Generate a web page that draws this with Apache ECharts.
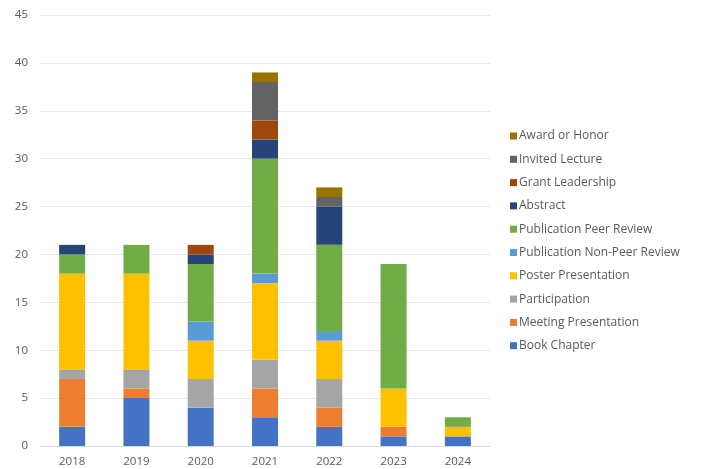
<!DOCTYPE html>
<html>
<head>
<meta charset="utf-8">
<script src="https://cdn.jsdelivr.net/npm/echarts@6/dist/echarts.min.js"></script>
<style>
  html, body { margin: 0; padding: 0; background: #fff; }
  #chart { width: 702px; height: 469px; }
</style>
</head>
<body>
<div id="chart"></div>
<script>
const years = ['2018', '2019', '2020', '2021', '2022', '2023', '2024'];

// stacked bottom to top
const bookChapter       = [2, 5, 4, 3, 2, 1, 1];
const meetingPres       = [5, 1, 0, 3, 2, 1, 0];
const participation     = [1, 2, 3, 3, 3, 0, 0];
const posterPres        = [10, 10, 4, 8, 4, 4, 1];
const pubNonPeer        = [0, 0, 2, 1, 1, 0, 0];
const pubPeer           = [2, 3, 6, 12, 9, 13, 1];
const abstractCnt       = [1, 0, 1, 2, 4, 0, 0];
const grantLeadership   = [0, 0, 1, 2, 0, 0, 0];
const invitedLecture    = [0, 0, 0, 4, 1, 0, 0];
const awardHonor        = [0, 0, 0, 1, 1, 0, 0];

const seriesList = [
  { name: 'Book Chapter', data: bookChapter, color: '#4472C4' },
  { name: 'Meeting Presentation', data: meetingPres, color: '#ED7D31' },
  { name: 'Participation', data: participation, color: '#A5A5A5' },
  { name: 'Poster Presentation', data: posterPres, color: '#FFC000' },
  { name: 'Publication Non-Peer Review', data: pubNonPeer, color: '#5B9BD5' },
  { name: 'Publication Peer Review', data: pubPeer, color: '#70AD47' },
  { name: 'Abstract', data: abstractCnt, color: '#264478' },
  { name: 'Grant Leadership', data: grantLeadership, color: '#9E480E' },
  { name: 'Invited Lecture', data: invitedLecture, color: '#636363' },
  { name: 'Award or Honor', data: awardHonor, color: '#997300' }
];

const chart = echarts.init(document.getElementById('chart'));
const font = 'Open Sans, sans-serif';

chart.setOption({
  animation: false,
  textStyle: { fontFamily: font },
  grid: { left: 40, right: 212, top: 15, bottom: 23 },
  legend: {
    orient: 'vertical',
    left: 505,
    top: 125,
    itemWidth: 7,
    itemHeight: 7,
    itemGap: 11.3,
    icon: 'rect',
    data: seriesList.map(s => s.name).reverse(),
    textStyle: { color: '#595959', fontSize: 12, fontFamily: font, padding: [0, 0, 0, -3] }
  },
  xAxis: {
    type: 'category',
    data: years,
    axisLine: { lineStyle: { color: '#d9d9d9' } },
    axisTick: { show: false },
    axisLabel: { color: '#595959', fontSize: 11.5, margin: 10 }
  },
  yAxis: {
    type: 'value',
    min: 0,
    max: 45,
    interval: 5,
    axisLine: { show: false },
    axisTick: { show: false },
    axisLabel: { color: '#595959', fontSize: 11.5, margin: 12 },
    splitLine: { lineStyle: { color: '#e8e8e8' } }
  },
  series: seriesList.map(s => ({
    name: s.name,
    type: 'bar',
    stack: 'total',
    barWidth: 26,
    data: s.data,
    itemStyle: { color: s.color }
  }))
});
</script>
</body>
</html>
